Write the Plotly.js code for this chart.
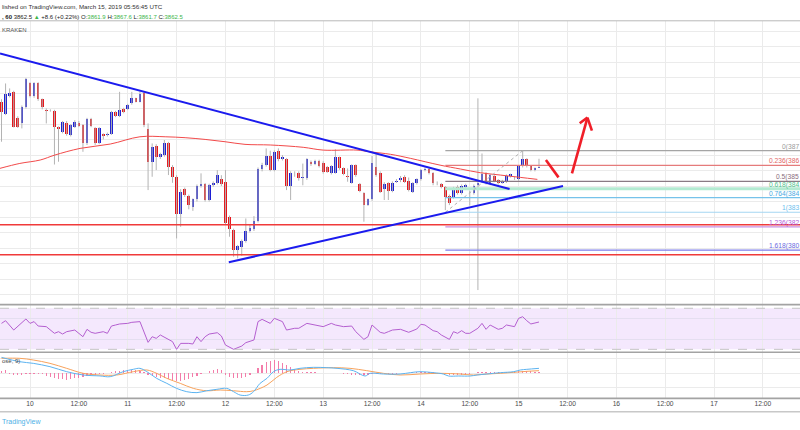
<!DOCTYPE html>
<html><head><meta charset="utf-8">
<script src="https://cdn.plot.ly/plotly-3.0.1.min.js"></script>
<style>html,body{margin:0;padding:0;background:#fff;}#chart{width:800px;height:430px;}</style>
</head><body><div id="chart"></div>
<script>
// ---------- DATA (hourly BTCUSD Kraken, idx0 = 2019-03-09 17:00 UTC) ----------
const opens = [3904.4,3896.8,3908.0,3910.8,3893.6,3890.8,3901.1,3916.2,3908.0,3916.2,
3905.9,3899.0,3899.0,3898.6,3887.8,3885.0,3891.0,3882.9,3888.2,3891.0,
3889.3,3877.5,3893.0,3887.2,3877.9,3883.5,3882.9,3883.9,3897.9,3895.1,
3899.6,3899.6,3903.3,3906.5,3904.4,3909.8,3886.6,3865.7,3875.8,3868.5,
3870.0,3877.5,3862.5,3856.0,3831.9,3847.8,3843.5,3836.2,3841.4,3850.0,
3851.3,3841.0,3850.6,3852.1,3854.5,3852.8,3829.8,3821.6,3808.7,3810.4,
3814.7,3821.2,3822.1,3827.4,3860.7,3863.5,3869.4,3860.3,3872.8,3867.2,
3867.2,3850.0,3858.6,3858.6,3855.0,3855.0,3865.7,3864.2,3866.4,3865.1,
3862.5,3858.6,3858.6,3868.5,3861.4,3856.5,3852.2,3863.5,3851.3,3845.3,
3837.7,3841.4,3862.0,3858.6,3847.8,3851.7,3847.0,3852.6,3853.9,3855.6,
3853.4,3846.4,3851.7,3854.3,3860.3,3861.2,3858.2,3851.7,3851.3,3849.1,
3843.5,3842.7,3849.6,3845.3,3849.1,3845.3,3845.3,3850.6,3852.8,3858.2,
3851.7,3856.5,3853.9,3852.2,3852.8,3856.5,3855.0,3854.3,3862.9,3867.2,
3862.9,3860.3,3861.9];
const highs = [3906,3916.2,3913,3911.5,3895,3902,3919.8,3917,3917,3917,
3906.5,3900.1,3899.5,3899.2,3888.5,3892,3892,3890,3892.5,3892,
3890,3894,3894,3888,3888,3884,3884.5,3898.5,3898.5,3910.8,
3900.5,3903,3910.8,3907,3911,3911,3890.4,3877.5,3877,3871.5,
3879.7,3878.5,3863.5,3857,3848,3849,3844.5,3842,3851,3858.2,
3852,3851.5,3853,3860.3,3857,3860.3,3831,3822.5,3812,3815.5,
3829.1,3825,3830.6,3862,3865,3874.3,3872.8,3873,3874.3,3870,
3868,3859.5,3859.5,3859.5,3864.5,3868,3866.5,3867,3867,3866,
3863,3863.5,3873.7,3869,3862,3861.4,3864,3864,3852,3846,
3842,3869.4,3870.6,3859.5,3852.5,3852.5,3853,3854.5,3856.5,3857,
3855.5,3852.5,3855,3861,3862,3862,3859,3853,3852,3850,
3844.5,3849.5,3850.5,3851,3851.5,3847,3851,3906.6,3871,3859,
3858,3857.5,3854.5,3854,3857.5,3858,3856,3863.5,3873.2,3868,
3863.5,3862,3867.6];
const lows = [3878.6,3895.8,3907.2,3887.8,3887.5,3887.2,3900,3907.2,3907,3905,
3899.5,3890.4,3898,3863.9,3865.7,3884,3882.5,3882,3887.5,3888,
3872.1,3876.5,3888,3876.5,3877,3880.1,3882,3883,3894.5,3894.5,
3897,3899,3902.5,3904,3904,3888,3847.4,3856,3860.3,3867.5,
3869,3857.1,3852.1,3816.2,3823.7,3843,3835,3834,3840,3849,
3840,3840,3849.5,3851,3850,3825,3817.3,3804.4,3803.3,3805,
3813.5,3820,3821,3826.5,3859.5,3862.5,3859.5,3859.5,3866,3866.5,
3847.4,3841,3856,3853.5,3850.5,3854,3863,3863.5,3862,3858,
3858.5,3857.5,3858,3860.5,3857,3852.8,3851.5,3856,3846,3827,
3837.1,3840.5,3856,3845.5,3841,3841,3846,3852,3852.5,3852,
3846.5,3845.5,3851,3853.5,3859.5,3857.5,3850.5,3850.5,3848.5,3834.5,
3837.7,3842,3844.5,3844.5,3848.5,3837.5,3844.5,3782.9,3852,3851,
3850.5,3852.5,3851,3851.5,3852,3855.5,3854,3853.5,3862,3862,
3859.5,3859.5,3861.7];
const closes = [3897.9,3909.7,3910.2,3888.2,3888.2,3901.1,3919.4,3908.0,3916.2,3905.9,
3900.7,3898.6,3898.8,3887.8,3886.5,3891.5,3883.3,3889.3,3891.5,3888.9,
3877.5,3893.0,3888.7,3877.5,3887.2,3882.2,3883.9,3897.9,3895.1,3899.4,
3897.9,3902.6,3906.5,3904.4,3909.7,3889.4,3865.7,3875.4,3868.9,3870.4,
3877.5,3862.5,3856.0,3831.9,3846.3,3844.2,3837.7,3841.4,3850.0,3851.3,
3841.0,3850.6,3852.1,3857.1,3851.3,3825.9,3822.0,3808.7,3811.3,3814.7,
3821.2,3822.7,3827.4,3860.7,3863.5,3869.4,3860.3,3872.1,3867.2,3868.5,
3850.0,3858.6,3858.2,3855.0,3855.6,3867.2,3864.2,3866.4,3862.9,3859.2,
3859.2,3862.9,3868.5,3861.4,3857.7,3856.1,3863.5,3857.1,3847.0,3837.7,
3841.4,3864.6,3857.1,3846.3,3851.3,3847.0,3852.2,3853.4,3855.0,3852.8,
3847.4,3851.7,3854.3,3860.3,3860.7,3858.2,3851.7,3852.0,3849.1,3843.1,
3839.3,3848.5,3845.3,3850.2,3850.6,3845.7,3850.0,3852.2,3857.7,3851.7,
3857.1,3853.4,3851.7,3853.4,3856.5,3857.5,3855.4,3862.9,3867.2,3862.9,
3860.3,3861.4,3862.5];

// 100-period moving average (read points: candle index, value)
const maIdx = [-0.4,4.5,9.5,13.1,19.3,26.7,34,40.2,45.1,50,54.9,59.8,66,74.1,79,87.3,90.5,95.5,100.4,107.7,112.7,117.6,122.5,127.4,131.6];
const maVal = [3861.4,3864.6,3866.8,3870.0,3874.3,3877.1,3881.8,3881.8,3881.2,3880.1,3878.6,3876.9,3876.5,3875.0,3873.2,3873.2,3872.1,3870.5,3867.9,3863.5,3861.0,3858.6,3857.1,3855.6,3854.3];

// RSI (candle index, value)
const rsiIdx = [0,1,3,4,6,7,8,9,11,13,14,15,16,18,20,21,22,23,25,26,27,28,29,31,32,34,36,37,38,39,41,42,43,44,46,47,48,49,50,51,53,54,55,57,59,60,62,63,64,66,67,69,70,72,73,75,77,79,81,82,84,86,87,89,90,91,93,94,95,96,98,100,102,103,104,106,107,108,110,111,112,113,114,115,117,118,119,120,122,123,124,126,127,128,129,130,132];
const rsiVal = [55.3,57.9,48.8,52.1,59.6,55.3,57,52.7,52.1,45.6,47.2,44.9,47.2,48.8,42.3,49.5,46.6,45.6,47.2,45.6,52.7,53.7,54.7,55.3,56.3,57,36.8,42.3,40.7,44,39.7,37.5,30,35.8,35.8,35.2,42.3,37.5,42.3,44.9,46.2,43,34.2,30,33.2,36.5,39.1,57,59.2,55.3,60.2,57,48.8,50.5,50.5,55.3,53.7,52.1,55.3,53.7,52.1,52.7,47.2,39.7,42.3,53.7,46.6,45.6,47.2,48.8,49.5,46.6,49.8,54.4,53.7,48.2,47.2,44,39.7,47.2,45.6,48.2,45.6,45.6,50.5,55.3,49.5,53.7,49.5,50.5,53.7,52.1,60.2,61.8,57.9,54.7,56.6];

// MACD (12, 26, close, 9)
const macdIdx = [0,4.5,7.8,11.9,16,20.1,24.2,26.7,29.9,32.4,34,35.7,38.1,40.6,43,45.5,48,50.4,52.9,55.3,57,58.6,60.6,61.9,63.5,65.2,66.8,68.4,70.9,73.3,76.6,79.9,82.4,86.4,89.3,90.5,93.8,97.9,100.4,102.8,106.1,108.5,109.8,112.2,115.1,116.8,119.2,122.5,125.8,127.4,129,132];
const macdVal = [11.0,8.0,6.9,4.6,1.15,-1.15,-1.8,-2.3,1.15,2.8,3.45,1.15,-3.45,-6.9,-10.35,-12.65,-13.3,-12.0,-11.0,-10.35,-12.65,-14.95,-14.95,-12.65,-6.9,-3.45,1.15,2.76,2.3,3.45,4.14,3.9,3.45,1.84,-1.84,0,-0.46,-0.46,0.46,1.15,0.46,-0.46,-1.84,-1.84,-1.84,-1.15,-0.46,0.46,1.15,2.3,2.76,3.45];
const signalIdx = [0,4.5,7.8,11.9,16,20.1,24.2,28.3,32.4,35.7,38.1,40.6,43.9,47.1,50.4,53.7,57,60.2,61.9,65.2,67.6,70.1,73.3,76.6,81.5,85.6,89.7,93.8,97.9,102.8,107.7,112.6,115.9,119.2,122.5,125.8,129,132];
const signalVal = [10.35,10.35,9.2,6.9,3.45,0,-1.15,-1.15,1.15,2.3,0,-3.45,-6.9,-10.35,-12.0,-11.5,-12.0,-12.65,-12.0,-8.05,-2.76,1.15,2.76,3.45,3.9,3.45,1.84,0,-1.15,-0.46,0,-0.46,-1.15,-0.46,0,0.69,1.38,1.84];
const histVal = [1.8,2.0,-0.8,-1.2,-1.2,-1.0,-0.8,-0.5,-0.6,-0.4,
-0.6,-1.5,-2.5,-3.2,-3.8,-4.2,-4.6,-4.0,-3.5,-3.0,
-2.4,-1.8,-1.4,-1.0,-0.6,-0.3,0.3,0.8,1.4,1.8,
2.0,2.2,2.4,2.2,1.8,0.6,-1.0,-1.8,-2.4,-3.0,
-3.5,-4.0,-4.6,-5.4,-5.6,-4.8,-3.6,-2.6,-1.6,-0.8,
0.4,1.6,2.6,2.8,2.2,-1.0,-2.4,-3.2,-3.4,-3.0,
-2.2,-1.2,0.5,3.5,6.0,7.6,8.6,9.2,8.4,7.2,
5.8,4.2,2.8,1.8,1.2,1.0,0.8,0.6,0.4,0.3,
0.2,0.3,0.2,0.1,-0.2,-0.6,-0.9,-1.0,-1.2,-1.4,
-1.0,-0.5,-0.6,-0.7,-0.6,-0.5,-0.4,-0.3,0.2,0.4,
0.5,0.6,0.8,1.0,1.0,1.0,0.8,0.4,-0.3,-0.8,
-1.0,-1.0,-1.0,-0.9,-0.8,-0.6,0.2,0.8,1.0,1.0,
0.9,0.8,0.8,0.8,0.9,1.0,1.2,1.5,1.6,1.5,
1.3,1.2,1.2];

// Drawings (candle index, price)
const upperTrend = {i: [-0.37, 124.77], p: [3935.6, 3848.1]};
const lowerTrend = {i: [55.82, 137.9], p: [3800.8, 3850.0]};
const supportLevels = [3825.0, 3805.7];
const fibStartIdx = 109;
const fibDiag = {i: [109, 128], p: [3833.1, 3872.8]};
const fibPrices = [3872.8, 3863.4, 3853.0, 3848.3, 3842.5, 3833.1, 3823.6, 3808.6];
const fibLabels = ["0(387", "0.236(386", "0.5(385", "0.618(384", "0.764(384", "1(383", "1.236(382", "1.618(380"];
const fibColors = ["#a5a5a5", "#e57b7b", "#8a7a84", "#b4ead2", "#76c2ea", "#a5d6f2", "#c98fe2", "#7d7deb"];
const fibTextColors = ["#9a9a9a", "#e26464", "#8a6c7c", "#52c48d", "#4aa9e2", "#6cc0ee", "#b35ad9", "#6a6ae0"];
const redMarks = [
  {i: [133.7, 136.8], p: [3866.8, 3855.6]},
  {i: [140.1, 143.9], p: [3858.2, 3894.2]},
  {i: [143.9, 142.0], p: [3894.2, 3890.5]},
  {i: [143.9, 145.0], p: [3894.2, 3885.8]}
];

// x-axis ticks (candle index) and labels
const tickIdx = [7,19,31,43,55,67,79,91,103,115,127,139,151,163,175,187];
const tickText = ["10","12:00","11","12:00","12","12:00","13","12:00","14","12:00","15","12:00","16","12:00","17","12:00"];

const headerLine1 = "lished on TradingView.com, March 15, 2019 05:56:45 UTC";
const headerLine2 = '<b>, 60</b> 3862.5 <span style="color:#3db54a">▲</span> +8.6 (+0.22%) O:<span style="color:#3db54a">3861.9</span> H:<span style="color:#3db54a">3867.6</span> L:<span style="color:#3db54a">3861.7</span> C:<span style="color:#3db54a">3862.5</span>';

// ---------- BUILD ----------
const T0 = Date.UTC(2019, 2, 9, 17);
function t(i) { return new Date(T0 + i * 3600000).toISOString().replace('T', ' ').replace('Z', ''); }
function py(pix) { return 1 - pix / 430; }
const FONT = "Liberation Sans, Arial, sans-serif";
const n = opens.length;
const idx = opens.map((_, k) => k);

const wx = [], wy = [];
for (let k = 0; k < n; k++) { wx.push(t(k), t(k), null); wy.push(lows[k], highs[k], null); }
const bodyBase = idx.map(k => Math.min(opens[k], closes[k]));
const bodyH = idx.map(k => Math.max(0.45, Math.abs(closes[k] - opens[k])));
const bodyCol = idx.map(k => closes[k] >= opens[k] ? "#1c1fd4" : "#e6161c");

const traces = [
  {type: 'scatter', mode: 'lines', x: wx, y: wy, line: {color: '#b3b3b3', width: 1}, hoverinfo: 'skip', xaxis: 'x', yaxis: 'y'},
  {type: 'bar', x: idx.map(t), base: bodyBase, y: bodyH, width: 0.66 * 3600000, marker: {color: bodyCol, line: {width: 0}}, hoverinfo: 'skip', xaxis: 'x', yaxis: 'y'},
  {type: 'scatter', mode: 'lines', x: maIdx.map(t), y: maVal, line: {color: '#f24a4a', width: 1, shape: 'spline'}, hoverinfo: 'skip', xaxis: 'x', yaxis: 'y'},
  {type: 'scatter', mode: 'lines', x: rsiIdx.map(t), y: rsiVal, line: {color: '#b45fd0', width: 1}, hoverinfo: 'skip', xaxis: 'x', yaxis: 'y2'},
  {type: 'bar', x: idx.map(t), y: histVal, width: 0.3 * 3600000, marker: {color: '#f37daa', line: {width: 0}}, hoverinfo: 'skip', xaxis: 'x', yaxis: 'y3'},
  {type: 'scatter', mode: 'lines', x: signalIdx.map(t), y: signalVal, line: {color: '#f7a25c', width: 1, shape: 'spline'}, hoverinfo: 'skip', xaxis: 'x', yaxis: 'y3'},
  {type: 'scatter', mode: 'lines', x: macdIdx.map(t), y: macdVal, line: {color: '#5cb3f0', width: 1, shape: 'spline'}, hoverinfo: 'skip', xaxis: 'x', yaxis: 'y3'}
];

const shapes = [];
// RSI band
shapes.push({type: 'rect', xref: 'paper', x0: 0, x1: 1, yref: 'y2', y0: 30, y1: 70, fillcolor: '#f4e8fd', line: {width: 0}, layer: 'below'});
[30, 70].forEach(v => shapes.push({type: 'line', xref: 'paper', x0: 0, x1: 1, yref: 'y2', y0: v, y1: v, line: {color: '#c4c4c4', width: 1, dash: 'dash'}}));
// support lines
supportLevels.forEach(v => shapes.push({type: 'line', xref: 'paper', x0: 0, x1: 1, yref: 'y', y0: v, y1: v, line: {color: '#f03a3a', width: 1.5}}));
// fib levels
fibPrices.forEach((v, k) => shapes.push({type: 'line', xref: 'x', x0: t(fibStartIdx), x1: t(200), yref: 'y', y0: v, y1: v, line: {color: fibColors[k], width: k === 3 ? 3 : 1.2}}));
shapes.push({type: 'line', xref: 'x', x0: t(fibDiag.i[0]), x1: t(fibDiag.i[1]), yref: 'y', y0: fibDiag.p[0], y1: fibDiag.p[1], line: {color: '#b0b0b0', width: 1, dash: 'dot'}});
// trend lines
[upperTrend, lowerTrend].forEach(L => shapes.push({type: 'line', xref: 'x', x0: t(L.i[0]), x1: t(L.i[1]), yref: 'y', y0: L.p[0], y1: L.p[1], line: {color: '#1b1bee', width: 2}}));
// red arrow marks
redMarks.forEach(L => shapes.push({type: 'line', xref: 'x', x0: t(L.i[0]), x1: t(L.i[1]), yref: 'y', y0: L.p[0], y1: L.p[1], line: {color: '#f01e28', width: 2.6}}));
// pane borders
shapes.push({type: 'line', xref: 'paper', x0: 0, x1: 1, yref: 'paper', y0: py(20.8), y1: py(20.8), line: {color: '#b8b8b8', width: 1}});
[304.6, 352.3, 398.4].forEach(p => shapes.push({type: 'line', xref: 'paper', x0: 0, x1: 1, yref: 'paper', y0: py(p), y1: py(p), line: {color: '#a3a3a3', width: 1.6}}));
shapes.push({type: 'line', xref: 'paper', x0: 0, x1: 1, yref: 'paper', y0: py(411.8), y1: py(411.8), line: {color: '#c8c8c8', width: 1.6}});

const annotations = [
  {xref: 'paper', yref: 'paper', x: 0, y: py(6.5), xanchor: 'left', yanchor: 'middle', text: headerLine1, showarrow: false, font: {family: FONT, size: 6.2, color: '#333'}},
  {xref: 'paper', yref: 'paper', x: 0, y: py(17), xanchor: 'left', yanchor: 'middle', text: headerLine2, showarrow: false, font: {family: FONT, size: 6.0, color: '#222'}},
  {xref: 'paper', yref: 'paper', x: 0, y: py(30), xanchor: 'left', yanchor: 'middle', text: 'KRAKEN', showarrow: false, font: {family: FONT, size: 6, color: '#555'}},
  {xref: 'paper', yref: 'paper', x: 0, y: py(361), xanchor: 'left', yanchor: 'middle', text: 'ose, 9)', showarrow: false, font: {family: FONT, size: 6, color: '#444'}},
  {xref: 'paper', yref: 'paper', x: 0, y: py(421.5), xanchor: 'left', yanchor: 'middle', text: 'TradingView', showarrow: false, font: {family: FONT, size: 7, color: '#4eb0e6'}}
];
fibPrices.forEach((v, k) => annotations.push({xref: 'paper', yref: 'y', x: 1, y: v, xanchor: 'right', yanchor: 'bottom', yshift: -1, text: fibLabels[k], showarrow: false, borderpad: 0, font: {family: FONT, size: 6.7, color: fibTextColors[k]}}));

const layout = {
  width: 800, height: 430, margin: {l: 0, r: 0, t: 0, b: 0},
  paper_bgcolor: '#ffffff', plot_bgcolor: '#ffffff', showlegend: false, barmode: 'overlay', bargap: 0,
  xaxis: {type: 'date', range: [t(-0.369), t(196.1)], anchor: 'y3', tickmode: 'array', tickvals: tickIdx.map(t), ticktext: tickText,
    showgrid: true, gridcolor: '#ebebeb', gridwidth: 1, ticks: '', showline: false, zeroline: false,
    tickfont: {family: FONT, size: 6.7, color: '#4a4a4a'}, rangeslider: {visible: false}, fixedrange: true},
  yaxis: {domain: [py(304), py(21)], range: [3773.9, 3956.5], tick0: 3770, dtick: 10, showticklabels: false, gridcolor: '#ebebeb', zeroline: false, showline: false, fixedrange: true},
  yaxis2: {domain: [py(352), py(305)], range: [27.4, 73.2], tickmode: 'array', tickvals: [40, 60], showticklabels: false, gridcolor: '#e4def0', zeroline: false, showline: false, fixedrange: true},
  yaxis3: {domain: [py(398.3), py(352.3)], range: [-17.2, 14.5], tickmode: 'array', tickvals: [-10, 0, 10], showticklabels: false, gridcolor: '#ebebeb', zeroline: false, showline: false, fixedrange: true},
  shapes: shapes, annotations: annotations
};
Plotly.newPlot('chart', traces, layout, {displayModeBar: false, staticPlot: true});
</script></body></html>
